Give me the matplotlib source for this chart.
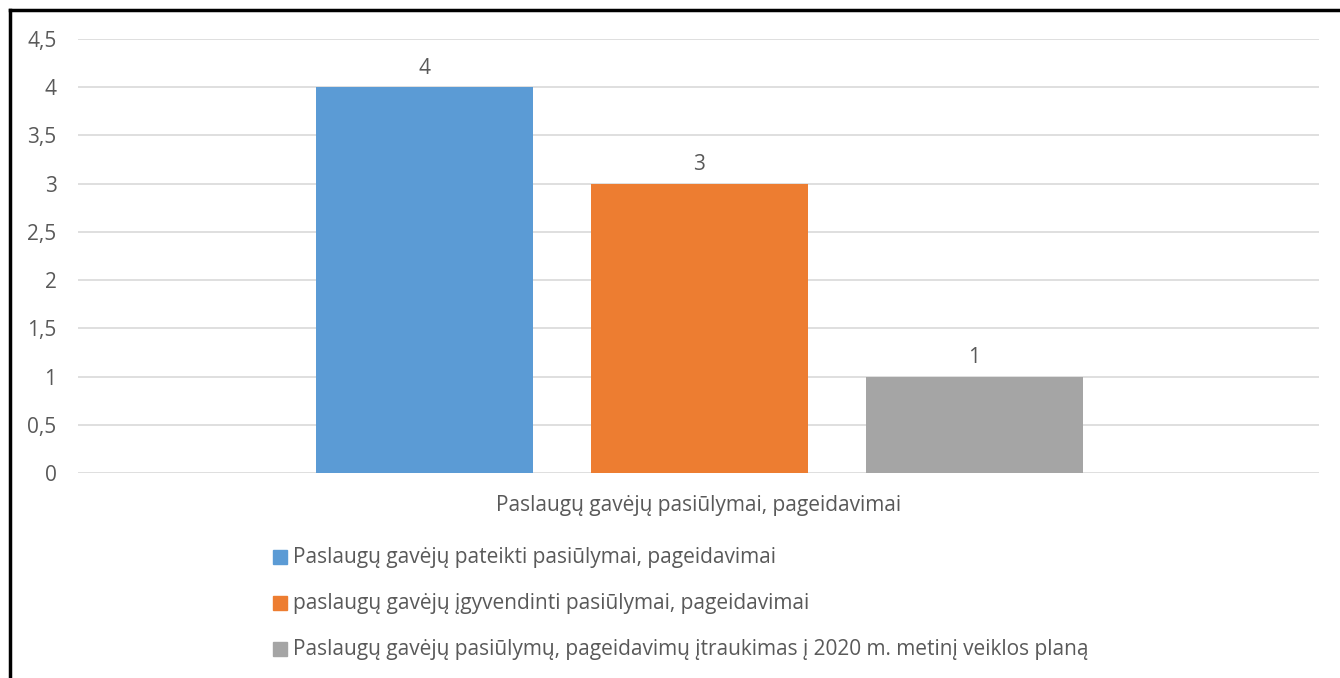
import matplotlib.pyplot as plt
from matplotlib.lines import Line2D
from matplotlib.patches import Rectangle

plt.rcParams['font.family'] = ['Open Sans', 'DejaVu Sans']

# %% Duomenys
category = "Paslaugų gavėjų pasiūlymai, pageidavimai"
series = [
    "Paslaugų gavėjų pateikti pasiūlymai, pageidavimai",
    "paslaugų gavėjų įgyvendinti pasiūlymai, pageidavimai",
    "Paslaugų gavėjų pasiūlymų, pageidavimų įtraukimas į 2020 m. metinį veiklos planą",
]
values = [4, 3, 1]
colors = ['#5B9BD5', '#ED7D31', '#A5A5A5']
yticks = [0, 0.5, 1, 1.5, 2, 2.5, 3, 3.5, 4, 4.5]
ytick_labels = ['0', '0,5', '1', '1,5', '2', '2,5', '3', '3,5', '4', '4,5']

text_color = '#595959'
fs = 15
W, H = 1340, 678

# %% Grafikas
fig = plt.figure(figsize=(W / 100, H / 100), dpi=100)
ax = fig.add_axes([78 / W, 1 - 473 / H, (1319 - 78) / W, (473 - 39) / H])

x = range(len(values))
bars = ax.bar(x, values, width=217 / 275, color=colors, zorder=3)
for b, v in zip(bars, values):
    ax.annotate(str(v), (b.get_x() + b.get_width() / 2, v), xytext=(0, 13.5),
                textcoords='offset points', ha='center', va='center',
                fontsize=fs, color=text_color)

ax.set_xlim((78 - 424.5) / 275, (1319 - 424.5) / 275)
ax.set_ylim(0, 4.5)
ax.set_yticks(yticks)
ax.set_yticklabels(ytick_labels, fontsize=fs, color=text_color)
ax.set_xticks([])
ax.tick_params(axis='y', length=0, pad=15.5)
ax.grid(axis='y', color='#D9D9D9', linewidth=1.2, zorder=0)
for s in ax.spines.values():
    s.set_visible(False)

fig.text(699 / W, 1 - 505 / H, category, ha='center', va='center',
         fontsize=fs, color=text_color)

# %% Legenda
for i, (lab, c) in enumerate(zip(series, colors)):
    yc = 557 + i * 46
    fig.patches.append(Rectangle((273 / W, 1 - (yc + 7) / H), 14 / W, 14 / H,
                                 transform=fig.transFigure, color=c))
    fig.text(293 / W, 1 - yc / H, lab, ha='left', va='center',
             fontsize=fs, color=text_color)

# %% Remelis
fig.add_artist(Line2D([9.5 / W, 9.5 / W], [0, 1 - 9.5 / H], color='black', linewidth=2.5,
                      transform=fig.transFigure))
fig.add_artist(Line2D([9.5 / W, 1], [1 - 9.5 / H, 1 - 9.5 / H], color='black', linewidth=2.5,
                      transform=fig.transFigure))

fig.savefig('out.png', dpi=100)
